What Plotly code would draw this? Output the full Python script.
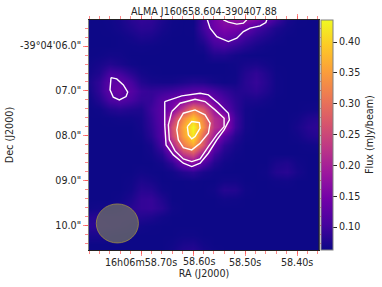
import plotly.graph_objects as go

# flux map (in uJy/beam, rows go from top to bottom of the map)
ra_sec = [58.80, 58.78, 58.76, 58.74, 58.72, 58.70, 58.68, 58.66, 58.64, 58.62, 58.60, 58.58,
          58.56, 58.54, 58.52, 58.50, 58.48, 58.46, 58.44, 58.42, 58.40, 58.38, 58.36]
dec_sec = [5.4, 5.6, 5.8, 6.0, 6.2, 6.4, 6.6, 6.8, 7.0, 7.2, 7.4, 7.6, 7.8, 8.0, 8.2, 8.4, 8.6,
           8.8, 9.0, 9.2, 9.4, 9.6, 9.8, 10.0, 10.2, 10.4, 10.6]
flux_milli = [
    [63, 63, 65, 70, 82, 90, 88, 74, 65, 63, 63, 100, 145, 170, 180, 178, 160, 130, 100, 72, 64, 63, 63],
    [63, 63, 64, 68, 76, 84, 82, 70, 64, 63, 64, 100, 140, 155, 150, 135, 105, 90, 74, 66, 63, 63, 63],
    [63, 63, 63, 64, 68, 74, 72, 65, 63, 63, 63, 85, 120, 135, 122, 100, 85, 75, 67, 63, 63, 63, 63],
    [63, 63, 63, 64, 64, 65, 64, 63, 63, 63, 63, 70, 98, 105, 92, 80, 70, 65, 63, 63, 63, 63, 63],
    [63, 64, 67, 66, 63, 63, 63, 63, 63, 63, 63, 63, 76, 76, 68, 64, 63, 63, 63, 63, 63, 63, 63],
    [65, 70, 78, 72, 65, 63, 63, 63, 63, 63, 63, 63, 63, 63, 65, 70, 72, 67, 63, 63, 63, 63, 63],
    [68, 76, 105, 100, 82, 68, 64, 63, 63, 63, 63, 63, 63, 63, 64, 78, 88, 76, 64, 63, 63, 63, 63],
    [72, 88, 124, 128, 105, 78, 70, 68, 68, 73, 78, 76, 68, 64, 66, 82, 92, 80, 65, 63, 63, 63, 63],
    [68, 88, 128, 138, 118, 95, 90, 95, 100, 110, 118, 120, 105, 90, 78, 80, 86, 76, 65, 63, 63, 63, 63],
    [64, 78, 108, 118, 105, 90, 92, 118, 138, 160, 185, 185, 135, 108, 85, 72, 72, 67, 63, 63, 63, 63, 63],
    [63, 65, 78, 83, 78, 75, 98, 125, 155, 230, 310, 270, 180, 128, 90, 68, 64, 63, 63, 63, 63, 65, 66],
    [63, 63, 64, 66, 66, 70, 92, 125, 220, 330, 390, 320, 215, 190, 100, 68, 63, 63, 63, 63, 66, 76, 80],
    [63, 63, 63, 63, 63, 68, 88, 120, 260, 360, 435, 340, 220, 190, 98, 68, 63, 63, 63, 63, 70, 82, 86],
    [63, 63, 63, 63, 63, 65, 82, 118, 250, 350, 420, 290, 190, 120, 80, 65, 63, 63, 63, 63, 66, 76, 80],
    [63, 63, 63, 63, 63, 63, 70, 105, 200, 310, 360, 270, 135, 88, 70, 63, 63, 63, 63, 63, 63, 65, 67],
    [63, 63, 63, 63, 63, 63, 66, 82, 135, 230, 260, 180, 100, 75, 65, 63, 63, 63, 63, 63, 63, 63, 63],
    [63, 63, 63, 63, 63, 63, 63, 68, 88, 140, 165, 115, 78, 66, 63, 63, 63, 63, 72, 76, 66, 63, 63],
    [63, 63, 63, 63, 63, 66, 64, 63, 66, 78, 85, 72, 65, 63, 63, 63, 63, 65, 78, 82, 70, 63, 63],
    [63, 63, 63, 63, 65, 74, 70, 63, 63, 63, 64, 63, 63, 67, 67, 63, 63, 63, 65, 66, 63, 63, 63],
    [63, 63, 63, 63, 67, 82, 80, 66, 63, 63, 63, 63, 66, 80, 78, 65, 63, 63, 63, 63, 63, 63, 63],
    [63, 63, 63, 65, 74, 90, 92, 76, 63, 63, 63, 63, 63, 66, 65, 63, 63, 63, 63, 63, 63, 63, 63],
    [65, 67, 67, 72, 82, 90, 92, 82, 66, 63, 63, 63, 63, 63, 63, 63, 63, 63, 63, 63, 63, 63, 63],
    [80, 82, 80, 80, 80, 78, 74, 66, 63, 63, 63, 63, 63, 63, 63, 63, 63, 63, 63, 63, 63, 63, 63],
    [84, 84, 82, 78, 72, 66, 64, 63, 63, 63, 63, 63, 63, 63, 63, 63, 63, 63, 63, 63, 63, 63, 63],
    [72, 72, 68, 65, 63, 63, 63, 63, 63, 65, 65, 63, 63, 63, 63, 63, 63, 63, 63, 63, 63, 63, 63],
    [63, 63, 63, 63, 63, 63, 63, 63, 65, 72, 74, 66, 63, 63, 63, 63, 63, 63, 63, 63, 63, 63, 63],
    [63, 63, 63, 63, 63, 63, 63, 63, 68, 80, 84, 72, 65, 63, 63, 63, 63, 63, 63, 63, 63, 63, 63],
]
flux = [[v / 1000 for v in row] for row in flux_milli]

# contours, traced by eye
c1_ra = [58.6544, 58.6217, 58.5865, 58.5706, 58.5513, 58.5321, 58.5302, 58.5404, 58.5544, 58.5706,
         58.5865, 58.6025, 58.6187, 58.6379, 58.6519, 58.6544, 58.6544]
c1_dec = [7.236, 7.109, 7.050, 7.087, 7.272, 7.495, 7.644, 7.866, 8.089, 8.386,
          8.609, 8.683, 8.609, 8.423, 8.200, 7.755, 7.236]
c2_ra = [58.6410, 58.6250, 58.5962, 58.5769, 58.5577, 58.5404, 58.5404, 58.5544, 58.5706, 58.5865,
         58.6025, 58.6187, 58.6346, 58.6456, 58.6475, 58.6410]
c2_dec = [7.459, 7.272, 7.183, 7.236, 7.421, 7.606, 7.793, 7.978, 8.238, 8.512,
          8.572, 8.512, 8.334, 8.089, 7.755, 7.459]
c3_ra = [58.6283, 58.6187, 58.5962, 58.5769, 58.5673, 58.5706, 58.5865, 58.6025, 58.6187, 58.6283,
         58.6313, 58.6283]
c3_dec = [7.682, 7.495, 7.421, 7.532, 7.718, 7.941, 8.163, 8.312, 8.260, 8.089, 7.866, 7.682]
c4_ra = [58.6110, 58.6025, 58.5879, 58.5865, 58.5962, 58.6025, 58.6090, 58.6110]
c4_dec = [7.793, 7.682, 7.704, 7.829, 8.016, 8.067, 7.978, 7.793]
side_ra = [58.7577, 58.7467, 58.7340, 58.7256, 58.7288, 58.7417, 58.7533, 58.7596, 58.7577]
side_dec = [6.702, 6.731, 6.864, 7.027, 7.125, 7.198, 7.138, 6.976, 6.702]
top_ra = [58.5725, 58.5673, 58.5544, 58.5321, 58.5160, 58.5033, 58.4904, 58.4712, 58.4602, 58.4583]
top_dec = [5.416, 5.601, 5.789, 5.900, 5.824, 5.677, 5.601, 5.550, 5.476, 5.416]
top_in_ra = [58.5417, 58.5321, 58.5160, 58.5033, 58.4967]
top_in_dec = [5.416, 5.468, 5.512, 5.490, 5.416]

ra_ticks = [58.70, 58.60, 58.50, 58.40]
# the 58.60s label sits right of its tick in the original, so it goes in as an annotation below
ra_labels = ['16h06m58.70s', ' ', '58.50s', '58.40s']
dec_ticks = [6.0, 7.0, 8.0, 9.0, 10.0]
dec_labels = ['-39°04\'06.0"', '07.0"', '08.0"', '09.0"', '10.0"']
cbar_ticks = [0.10, 0.15, 0.20, 0.25, 0.30, 0.35, 0.40]

FONT = 'DejaVu Sans'
TXT = '#262626'
TICK = 'rgba(255,70,70,0.65)'
SIZE = 9.6

fig = go.Figure()
fig.add_trace(go.Heatmap(x=ra_sec, y=dec_sec, z=flux, colorscale='Plasma', zmin=0.0627, zmax=0.4357,
                         zsmooth='best', hoverinfo='skip',
                         colorbar=dict(x=1.0087, xanchor='left', y=0.5, len=1, thickness=12,
                                       xpad=0, ypad=0,
                                       outlinecolor='#808080', outlinewidth=1,
                                       tickmode='array', tickvals=cbar_ticks, tickformat='.2f',
                                       ticks='outside', ticklen=4, tickcolor=TXT,
                                       tickfont=dict(family=FONT, size=SIZE, color=TXT))))

for xs, ys in [(c1_ra, c1_dec), (c2_ra, c2_dec), (c3_ra, c3_dec), (c4_ra, c4_dec),
               (side_ra, side_dec), (top_ra, top_dec), (top_in_ra, top_in_dec)]:
    fig.add_trace(go.Scatter(x=xs, y=ys, mode='lines', line=dict(color='white', width=1.4),
                             hoverinfo='skip', showlegend=False))

# beam
fig.add_shape(type='circle', xref='x', yref='y', x0=58.786, x1=58.705, y0=9.514, y1=10.383,
              fillcolor='rgba(105,105,105,0.8)', line=dict(color='rgba(170,150,60,0.7)', width=1))
# right spine is black, the left one grey
fig.add_shape(type='line', xref='paper', yref='paper', x0=1, x1=1, y0=0, y1=1,
              line=dict(color='#222222', width=1))

fig.add_annotation(text='Flux (mJy/beam)', xref='paper', yref='paper', x=1.2175, y=0.5,
                   xanchor='center', yanchor='middle', textangle=-90, showarrow=False,
                   font=dict(family=FONT, size=SIZE, color=TXT))
fig.add_annotation(text='58.60s', xref='x', yref='paper', x=58.60, y=-0.048, xshift=6,
                   xanchor='center', yanchor='middle', showarrow=False,
                   font=dict(family=FONT, size=SIZE, color=TXT))

fig.update_xaxes(range=[58.80, 58.358], tickmode='array', tickvals=ra_ticks, ticktext=ra_labels,
                 tickangle=0, automargin=False, ticklabelstandoff=-2,
                 ticks='outside', ticklen=5, tickwidth=1, tickcolor=TICK, mirror='allticks',
                 showline=True, linecolor='#222222', linewidth=1, showgrid=False, zeroline=False,
                 minor=dict(ticks='outside', tick0=58.36, dtick=0.02, ticklen=3, tickwidth=1,
                            tickcolor=TICK, showgrid=False),
                 tickfont=dict(family=FONT, size=SIZE, color=TXT),
                 title=dict(text='RA (J2000)', font=dict(family=FONT, size=SIZE, color=TXT), standoff=2))
fig.update_yaxes(range=[10.54, 5.42], tickmode='array', tickvals=dec_ticks, ticktext=dec_labels,
                 automargin=False,
                 ticks='outside', ticklen=5, tickwidth=1, tickcolor=TICK, mirror='allticks',
                 showline=True, linecolor='#808080', linewidth=1, showgrid=False, zeroline=False,
                 minor=dict(ticks='outside', tick0=6.0, dtick=0.2, ticklen=3, tickwidth=1,
                            tickcolor=TICK, showgrid=False),
                 tickfont=dict(family=FONT, size=SIZE, color=TXT),
                 title=dict(text='Dec (J2000)', font=dict(family=FONT, size=SIZE, color=TXT), standoff=4))

fig.update_layout(width=382, height=287, autosize=False, margin=dict(l=89, r=63, t=20, b=37, pad=0),
                  paper_bgcolor='white', plot_bgcolor='white', showlegend=False,
                  title=dict(text='ALMA J160658.604-390407.88', x=0.534, xanchor='center',
                             y=0.958, yanchor='middle',
                             font=dict(family=FONT, size=SIZE, color=TXT)))

fig.write_html("out.html", config={'displayModeBar': False},
               post_script="document.body.style.margin='0';")
